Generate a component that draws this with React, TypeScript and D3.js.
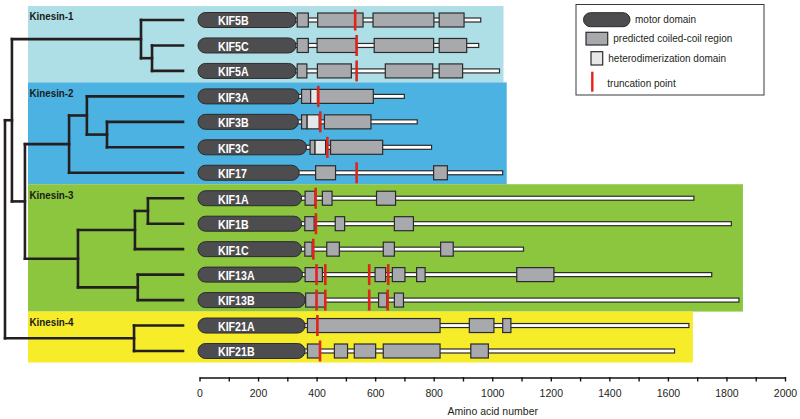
import React from "react";
import * as d3 from "d3";

// ---------- data ----------
const proteins = ["KIF5B", "KIF5C", "KIF5A", "KIF3A", "KIF3B", "KIF3C", "KIF17", "KIF1A", "KIF1B", "KIF1C", "KIF13A", "KIF13B", "KIF21A", "KIF21B"];
const lengths = [959, 952, 1023, 698, 742, 791, 1034, 1687, 1815, 1105, 1748, 1841, 1670, 1621];
const motorEnds = [328, 328, 328, 338, 336, 364, 339, 347, 347, 347, 350, 359, 359, 359];
const coiledCoils: [number, number][][] = [
  [[332, 370], [402, 557], [591, 799], [817, 902]],
  [[332, 370], [400, 534], [595, 798], [817, 911]],
  [[332, 365], [401, 517], [633, 795], [817, 897]],
  [[347, 378], [401, 592]],
  [[347, 366], [425, 584]],
  [[376, 393], [446, 624]],
  [[395, 463], [798, 845]],
  [[359, 393], [418, 451], [603, 668]],
  [[358, 390], [462, 494], [664, 729]],
  [[358, 383], [433, 476], [626, 664], [822, 865]],
  [[359, 418], [598, 634], [657, 700], [740, 769], [1082, 1209]],
  [[361, 427], [610, 638], [664, 695]],
  [[367, 820], [920, 1004], [1034, 1062]],
  [[367, 410], [459, 504], [527, 600], [626, 820], [925, 985]],
];
const heteroDomains: [number, number][][] = [
  [], [], [],
  [[378, 401]],
  [[366, 407]],
  [[393, 429]],
  [], [], [], [], [], [], [], [],
];
const truncations: number[][] = [
  [530], [535], [535], [404], [411], [435], [535],
  [395], [396], [387], [398, 428, 578, 643], [398, 428, 578, 641], [401], [410],
];
const groupNames = ["Kinesin-1", "Kinesin-2", "Kinesin-3", "Kinesin-4"];
const groupMembers = [
  ["KIF5B", "KIF5C", "KIF5A"],
  ["KIF3A", "KIF3B", "KIF3C", "KIF17"],
  ["KIF1A", "KIF1B", "KIF1C", "KIF13A", "KIF13B"],
  ["KIF21A", "KIF21B"],
];
const groupColors = ["#aedfe6", "#4cb2e1", "#8cc63f", "#f7ec2a"];
const tickValues = d3.range(0, 2001, 100);
const tickLabels = [0, 200, 400, 600, 800, 1000, 1200, 1400, 1600, 1800, 2000];
const legendLabels = ["motor domain", "predicted coiled-coil region", "heterodimerization domain", "truncation point"];

// dendrogram (branch depth, 0 = root, 100 = leaves)
type TNode = { name?: string; d?: number; children?: TNode[] };
const tree: TNode = {
  d: 0,
  children: [
    {
      d: 3.9,
      children: [
        { d: 76.4, children: [{ name: "KIF5B" }, { d: 82.6, children: [{ name: "KIF5C" }, { name: "KIF5A" }] }] },
        {
          d: 11.2,
          children: [
            {
              d: 36,
              children: [
                { d: 46, children: [{ name: "KIF3A" }, { d: 57.3, children: [{ name: "KIF3B" }, { name: "KIF3C" }] }] },
                { name: "KIF17" },
              ],
            },
            {
              d: 41,
              children: [
                { d: 73, children: [{ d: 80.3, children: [{ name: "KIF1A" }, { name: "KIF1B" }] }, { name: "KIF1C" }] },
                { d: 74.6, children: [{ name: "KIF13A" }, { name: "KIF13B" }] },
              ],
            },
          ],
        },
      ],
    },
    { d: 72.5, children: [{ name: "KIF21A" }, { name: "KIF21B" }] },
  ],
};

// ---------- styles ----------
const BOLD = "'Liberation Sans', Arial, sans-serif";
const SANS = "'Liberation Sans', Arial, sans-serif";
const OUT = "#2b2b2b";
const COIL = "#a7a9ac";
const HET = "#e6e7e8";
const MOTOR = "#4d4d4f";
const RED = "#e2231a";

export default function App() {
  const W = 800;
  const H = 419;
  const x = d3.scaleLinear().domain([0, 2000]).range([200, 785.5]);
  const y = d3.scalePoint<string>().domain(proteins).range([20, 351]);
  const depth = d3.scaleLinear().domain([0, 100]).range([5, 183]);

  // tree layout
  const root = d3.hierarchy<TNode>(tree);
  root.eachAfter((n: any) => {
    if (!n.children) {
      n.py = y(n.data.name!)!;
      n.px = depth(100);
    } else {
      const ys = n.children.map((c: any) => c.py);
      n.py = (d3.min(ys)! + d3.max(ys)!) / 2;
      n.px = depth(n.data.d!);
    }
  });
  const treeLines: { x1: number; y1: number; x2: number; y2: number }[] = [];
  root.each((n: any) => {
    if (n.children) {
      const ys = n.children.map((c: any) => c.py);
      treeLines.push({ x1: n.px, y1: d3.min(ys)!, x2: n.px, y2: d3.max(ys)! });
      n.children.forEach((c: any) => treeLines.push({ x1: n.px, y1: c.py, x2: c.px, y2: c.py }));
    }
  });

  const lx = 576;
  return (
    <svg width={W} height={H} style={{ position: "absolute", left: 0, top: 0, background: "#fff" }}>
      {/* group backgrounds */}
      {groupNames.map((g, gi) => {
        const mem = groupMembers[gi];
        const top = y(mem[0])! - 14;
        const bottom = y(mem[mem.length - 1])! + 11.5;
        const maxLen = d3.max(mem.map((m) => lengths[proteins.indexOf(m)]))!;
        return (
          <g key={g}>
            <rect x={28} y={top} width={x(maxLen) + 4 - 28} height={bottom - top} fill={groupColors[gi]} />
            <text transform={`translate(29.5,${top + 10}) scale(0.83,1)`} dominantBaseline="central" fontFamily={BOLD} fontWeight="bold" fontSize={11.8} fill="#1a1a1a">
              {g}
            </text>
          </g>
        );
      })}

      {/* tree */}
      <g stroke="#231f20" strokeWidth={2.6} strokeLinecap="square">
        {treeLines.map((l, i) => (
          <line key={i} x1={l.x1} y1={l.y1} x2={l.x2} y2={l.y2} />
        ))}
      </g>

      {/* proteins */}
      {proteins.map((p, i) => {
        const yc = y(p)!;
        return (
          <g key={p}>
            <rect x={x(motorEnds[i]) - 1} y={yc - 2} width={x(lengths[i]) - x(motorEnds[i]) + 1} height={4} fill="#fff" stroke={OUT} strokeWidth={1.2} />
            {coiledCoils[i].map(([s, e], j) => (
              <rect key={"c" + j} x={x(s)} y={yc - 7} width={x(e) - x(s)} height={14} fill={COIL} stroke={OUT} strokeWidth={1.2} />
            ))}
            {heteroDomains[i].map(([s, e], j) => (
              <rect key={"h" + j} x={x(s)} y={yc - 7} width={x(e) - x(s)} height={14} fill={HET} stroke={OUT} strokeWidth={1.2} />
            ))}
            <rect x={x(0) - 2} y={yc - 7.5} width={x(motorEnds[i]) - x(0) + 2} height={15} rx={7.5} fill={MOTOR} stroke={OUT} strokeWidth={1} />
            <text transform={`translate(${x(0) + 18},${yc + 0.5}) scale(0.85,1)`} dominantBaseline="central" fontFamily={BOLD} fontWeight="bold" fontSize={12.5} fill="#fff">
              {p}
            </text>
            {truncations[i].map((t, j) => (
              <line key={"t" + j} x1={x(t)} x2={x(t)} y1={yc - 10.5} y2={yc + 10.5} stroke={RED} strokeWidth={2.6} />
            ))}
          </g>
        );
      })}

      {/* legend */}
      <g fontFamily={SANS} fontSize={10} fill="#231f20">
        <rect x={lx} y={4.5} width={188} height={90.5} fill="#fff" stroke="#3a3a3a" strokeWidth={1} />
        <rect x={583.5} y={12.7} width={46.5} height={14} rx={7} fill={MOTOR} stroke={OUT} strokeWidth={1} />
        <text x={635} y={19.5} dominantBaseline="central">{legendLabels[0]}</text>
        <rect x={586} y={32.3} width={21.7} height={12.7} fill={COIL} stroke={OUT} strokeWidth={1.2} />
        <text x={613.3} y={38.8} dominantBaseline="central">{legendLabels[1]}</text>
        <rect x={591} y={51.7} width={11.7} height={13.3} fill={HET} stroke={OUT} strokeWidth={1.2} />
        <text x={608.3} y={58.3} dominantBaseline="central">{legendLabels[2]}</text>
        <line x1={592.3} x2={592.3} y1={71.7} y2={91.7} stroke={RED} strokeWidth={2.4} />
        <text x={607.3} y={83.3} dominantBaseline="central">{legendLabels[3]}</text>
      </g>

      {/* axis */}
      <g>
        <line x1={x(0)} x2={x(2000)} y1={378} y2={378} stroke="#111" strokeWidth={1.6} />
        {tickValues.map((t) => (
          <line key={t} x1={x(t)} x2={x(t)} y1={377} y2={381.5} stroke="#111" strokeWidth={1.4} />
        ))}
        {tickLabels.map((t) => (
          <text key={t} x={x(t)} y={393} textAnchor="middle" dominantBaseline="central" fontFamily={SANS} fontSize={10.5} fill="#231f20">
            {t}
          </text>
        ))}
        <text x={x(1000)} y={411} textAnchor="middle" dominantBaseline="central" fontFamily={SANS} fontSize={10.5} fill="#231f20">
          Amino acid number
        </text>
      </g>
    </svg>
  );
}
